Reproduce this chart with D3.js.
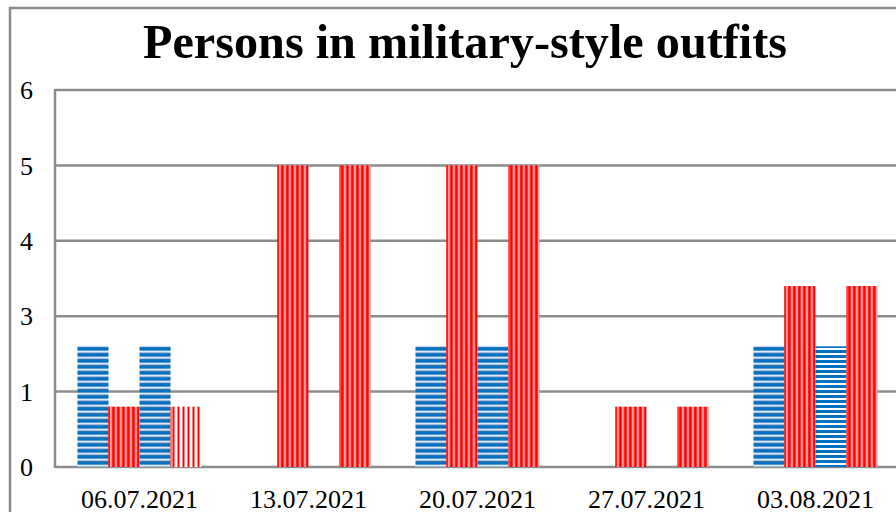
<!DOCTYPE html>
<html>
<head>
<meta charset="utf-8">
<script src="https://cdn.jsdelivr.net/npm/d3@7"></script>
<style>
  body { margin: 0; background: #fff; }
  text { font-family: "Liberation Serif", "Times New Roman", serif; fill: #000; }
</style>
</head>
<body>
<svg id="chart" width="896" height="512"></svg>
<script>
// data
const dates = ["06.07.2021", "13.07.2021", "20.07.2021", "27.07.2021", "03.08.2021"];
const seriesNames = ["blueA", "redA", "blueB", "redB"];
const blueA = [2.2, 0, 2.2, 0, 2.2];
const redA = [0.8, 5, 5, 0.8, 3.4];
const blueB = [2.2, 0, 2.2, 0, 2.2];
const redB = [0.8, 5, 5, 0.8, 3.4];
// the axis labels skip "2" but are spaced evenly
const yTicks = [0, 1, 3, 4, 5, 6];

const svg = d3.select("#chart");
const margin = { left: 55, top: 90, right: -4, bottom: 45 };
const svgWidth = 896, svgHeight = 512;
const width = svgWidth - margin.left - margin.right;
const plotBottom = 467;

// outer frame
svg.append("rect")
  .attr("x", 10).attr("y", 8)
  .attr("width", 920).attr("height", 520)
  .attr("fill", "none").attr("stroke", "#8c8c8c").attr("stroke-width", 2.5);

// patterns
const defs = svg.append("defs");
function stripes(id, horizontal, size, parts) {
  const p = defs.append("pattern").attr("id", id)
    .attr("patternUnits", "userSpaceOnUse")
    .attr("width", horizontal ? 10 : size).attr("height", horizontal ? size : 10);
  let off = 0;
  parts.forEach(([w, c]) => {
    p.append("rect")
      .attr("x", horizontal ? 0 : off).attr("y", horizontal ? off : 0)
      .attr("width", horizontal ? 10 : w).attr("height", horizontal ? w : 10)
      .attr("fill", c);
    off += w;
  });
}
stripes("blueSoft", true, 6, [[2, "#0070c0"], [1, "#5b9bd5"], [1, "#deebf7"], [1, "#9dc3e6"], [1, "#2e75b6"]]);
stripes("blueHard", true, 5, [[3, "#0070c0"], [2, "#ffffff"]]);
stripes("redSoft", false, 5, [[2, "#ff0000"], [1, "#ff6666"], [1, "#ffd5d5"], [1, "#ff4040"]]);
stripes("redHard", false, 5, [[2, "#ff0000"], [3, "#ffffff"]]);

function patternFor(series, g) {
  if (series === "blueB" && g === 4) return "url(#blueHard)";
  if (series === "redB" && g === 0) return "url(#redHard)";
  return series.startsWith("blue") ? "url(#blueSoft)" : "url(#redSoft)";
}

// scales
const x0 = d3.scaleBand()
  .domain(dates)
  .range([margin.left, margin.left + width])
  .paddingInner(0.266)
  .paddingOuter(0.133);
const x1 = d3.scaleBand()
  .domain(seriesNames)
  .range([0, x0.bandwidth()]);
const step = (plotBottom - margin.top) / (yTicks.length - 1);
const y = d3.scaleLinear()
  .domain(yTicks)
  .range(yTicks.map((d, i) => plotBottom - i * step));

// grid lines
svg.append("g")
  .selectAll("line")
  .data(yTicks)
  .join("line")
  .attr("x1", margin.left).attr("x2", svgWidth)
  .attr("y1", d => y(d)).attr("y2", d => y(d))
  .attr("stroke", "#8c8c8c").attr("stroke-width", 2.5);

// y axis line
svg.append("line")
  .attr("x1", margin.left).attr("x2", margin.left)
  .attr("y1", margin.top - 1).attr("y2", plotBottom + 1)
  .attr("stroke", "#8c8c8c").attr("stroke-width", 2.5);

// bars
const values = { blueA, redA, blueB, redB };
const rows = dates.map((d, g) => ({ date: d, g, vals: seriesNames.map(s => ({ s, v: values[s][g] })) }));
svg.append("g")
  .selectAll("g")
  .data(rows)
  .join("g")
  .attr("transform", d => `translate(${x0(d.date)},0)`)
  .each(function(row) {
    d3.select(this).selectAll("rect")
      .data(row.vals.filter(v => v.v > 0))
      .join("rect")
      .attr("x", d => x1(d.s))
      .attr("y", d => y(d.v))
      .attr("width", x1.bandwidth())
      .attr("height", d => plotBottom - y(d.v))
      .attr("fill", d => patternFor(d.s, row.g));
    d3.select(this).selectAll("line.edge")
      .data(row.vals.filter(v => v.v > 0 && v.s.startsWith("red")))
      .join("line")
      .attr("class", "edge")
      .attr("x1", d => x1(d.s) + 0.5).attr("x2", d => x1(d.s) + 0.5)
      .attr("y1", d => y(d.v)).attr("y2", plotBottom)
      .attr("stroke", "#ff0000").attr("stroke-width", 1);
  });

// y tick labels
svg.append("g")
  .selectAll("text")
  .data(yTicks)
  .join("text")
  .attr("x", 33).attr("y", d => y(d))
  .attr("dy", "0.35em")
  .attr("text-anchor", "end")
  .style("font-size", "26px")
  .text(d => d);

// x tick labels
svg.append("g")
  .selectAll("text")
  .data(dates)
  .join("text")
  .attr("x", d => x0(d) + x0.bandwidth() / 2)
  .attr("y", 508)
  .attr("text-anchor", "middle")
  .style("font-size", "26px")
  .text(d => d);

// title
svg.append("text")
  .attr("x", 465).attr("y", 58)
  .attr("text-anchor", "middle")
  .attr("textLength", 644)
  .attr("lengthAdjust", "spacingAndGlyphs")
  .style("font-size", "48px")
  .style("font-weight", "bold")
  .text("Persons in military-style outfits");
</script>
</body>
</html>
